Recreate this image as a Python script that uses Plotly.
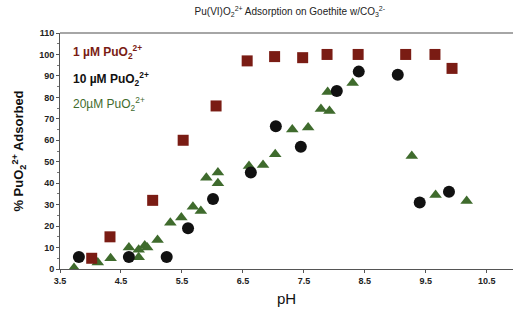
import plotly.graph_objects as go

# 1 uM PuO2 2+ (squares)
ph_1 = [4.02, 4.32, 5.02, 5.52, 6.06, 6.57, 7.02, 7.48, 7.88, 8.39, 9.17, 9.65, 9.93]
ads_1 = [5, 15, 32, 60, 76, 97, 99, 98.5, 100, 100, 100, 100, 93.5]

# 10 uM PuO2 2+ (circles)
ph_10 = [3.81, 4.63, 5.25, 5.6, 6.01, 6.63, 7.04, 7.45, 8.04, 8.4, 9.04, 9.4, 9.88]
ads_10 = [5.6, 5.6, 5.6, 19, 32.6, 45, 66.5, 57, 83, 92, 90.5, 31, 36]

# 20 uM PuO2 2+ (triangles)
ph_20 = [3.73, 4.12, 4.33, 4.63, 4.79, 4.79, 4.89, 4.93, 5.1, 5.31, 5.49, 5.68, 5.81,
         5.9, 6.09, 6.09, 6.6, 6.83, 7.03, 7.31, 7.57, 7.78, 7.92, 7.89, 8.3, 9.27,
         9.66, 10.17]
ads_20 = [0.5, 3, 5, 10, 9, 5.5, 11, 10, 13.5, 21.6, 24, 29, 27,
          42.5, 45, 40, 48, 48.5, 53.5, 65, 66, 74.6, 73.7, 82.5, 86.7, 52.7,
          34.5, 31.7]

x_ticks = [3.5, 4.5, 5.5, 6.5, 7.5, 8.5, 9.5, 10.5]
y_ticks = [0, 10, 20, 30, 40, 50, 60, 70, 80, 90, 100, 110]

RED = "#7a1c14"
BLACK = "#111111"
GREEN = "#3f6b2d"

fig = go.Figure()
fig.add_trace(go.Scatter(x=ph_20, y=ads_20, mode="markers",
                         marker=dict(symbol="triangle-up", size=11, color=GREEN)))
fig.add_trace(go.Scatter(x=ph_10, y=ads_10, mode="markers",
                         marker=dict(symbol="circle", size=12, color=BLACK)))
fig.add_trace(go.Scatter(x=ph_1, y=ads_1, mode="markers",
                         marker=dict(symbol="square", size=11, color=RED)))

fig.update_layout(
    width=513, height=323,
    margin=dict(l=60, r=0, t=33, b=54),
    plot_bgcolor="white", paper_bgcolor="white",
    showlegend=False,
    font=dict(family="Liberation Sans, Arial", color="#111"),
    title=dict(text="Pu(VI)O<sub>2</sub><sup>2+</sup> Adsorption on Goethite w/CO<sub>3</sub><sup>2-</sup>",
               x=0.565, xanchor="center", y=0.965, yanchor="middle",
               font=dict(size=10, color="#222")),
)
fig.update_xaxes(range=[3.5, 10.93], tickvals=x_ticks, ticktext=[f"<b>{v}</b>" for v in x_ticks],
                 showgrid=False, zeroline=False, showline=True, linecolor="#555", linewidth=1,
                 ticks="outside", ticklen=3, tickcolor="#555",
                 tickfont=dict(size=9, color="#222"),
                 title=dict(text="pH", font=dict(size=15, color="#111"), standoff=8))
fig.update_yaxes(range=[0, 110], tickvals=y_ticks, ticktext=[f"<b>{v}</b>" for v in y_ticks],
                 showgrid=False, zeroline=False, showline=True, linecolor="#555", linewidth=1,
                 ticks="outside", ticklen=3, tickcolor="#555",
                 minor=dict(ticks="outside", ticklen=2, dtick=5, tickcolor="#777"),
                 tickfont=dict(size=9, color="#222"),
                 title=dict(text="<b>% PuO<sub>2</sub><sup>2+</sup> Adsorbed</b>",
                            font=dict(size=13, color="#111"), standoff=12))
# top border line
fig.add_shape(type="line", xref="paper", yref="paper", x0=0, x1=1, y0=1, y1=1,
              line=dict(color="#888", width=1.5))

fig.add_annotation(xref="paper", yref="paper", x=0.025, y=0.92, xanchor="left", yanchor="middle",
                   text="<b>1 µM PuO<sub>2</sub><sup>2+</sup></b>", showarrow=False,
                   font=dict(size=12, color=RED))
fig.add_annotation(xref="paper", yref="paper", x=0.025, y=0.805, xanchor="left", yanchor="middle",
                   text="<b>10 µM PuO<sub>2</sub><sup>2+</sup></b>", showarrow=False,
                   font=dict(size=12, color=BLACK))
fig.add_annotation(xref="paper", yref="paper", x=0.025, y=0.70, xanchor="left", yanchor="middle",
                   text="20µM PuO<sub>2</sub><sup>2+</sup>", showarrow=False,
                   font=dict(size=12, color=GREEN))

fig.write_html("out.html")
